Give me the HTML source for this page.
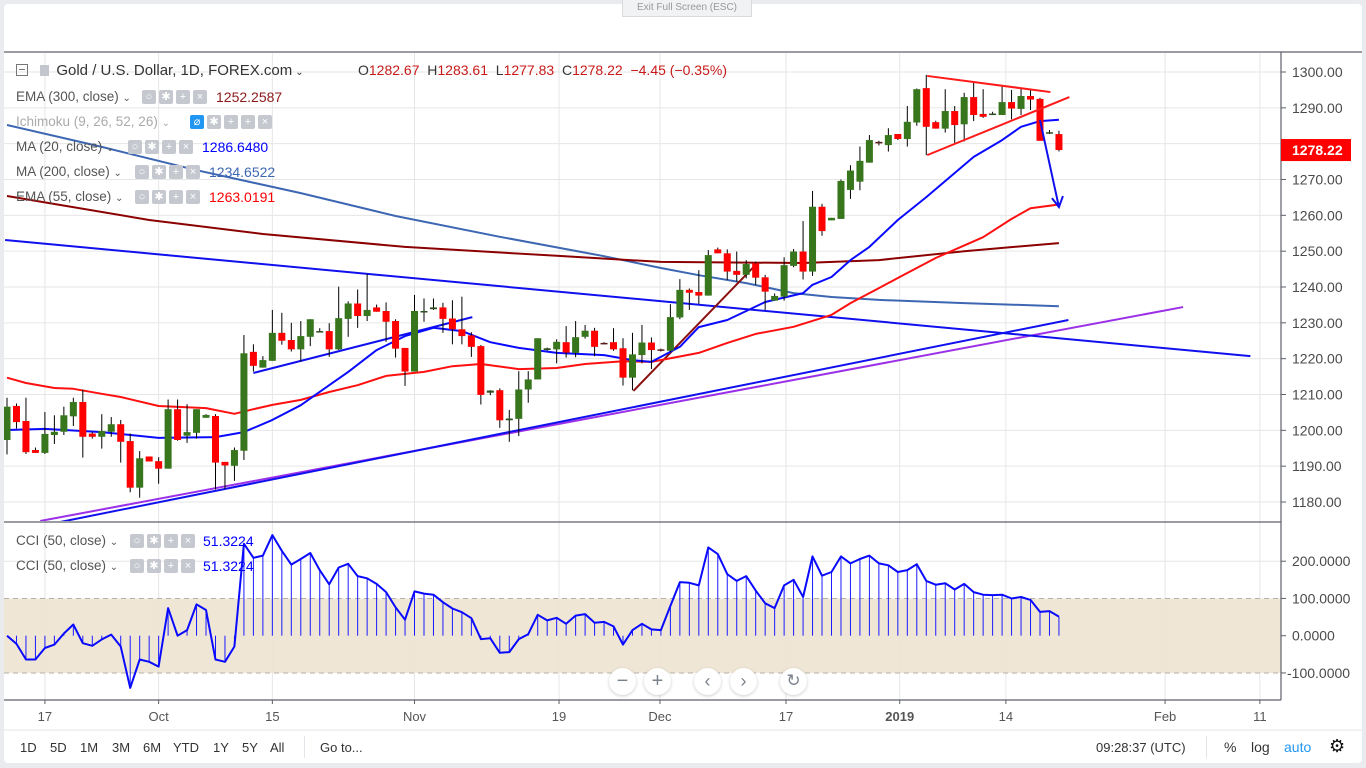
<!DOCTYPE html>
<html><head><meta charset="utf-8"><style>
html,body{margin:0;padding:0;background:#e9ebee;}
svg{display:block;font-family:"Liberation Sans",sans-serif;}
</style></head><body>
<svg id="chart" width="1366" height="768" viewBox="0 0 1366 768" xmlns="http://www.w3.org/2000/svg">
<defs>
<clipPath id="mainClip"><rect x="4" y="53" width="1277" height="468"/></clipPath>
<clipPath id="cciClip"><rect x="4" y="523" width="1277" height="176"/></clipPath>
<filter id="sh" x="-50%" y="-50%" width="200%" height="200%"><feDropShadow dx="0" dy="1" stdDeviation="1.5" flood-color="#000" flood-opacity="0.18"/></filter>
</defs>
<rect x="4" y="4" width="1358" height="759" rx="4" fill="#fff"/>
<g id="grid"></g>
<g id="cciBand"></g>
<g id="mainG" clip-path="url(#mainClip)"></g>
<g id="cciG" clip-path="url(#cciClip)"></g>
<g id="axes"></g>
<g id="legend"></g>
</svg>
<script>
// ---------- data ----------
const opens=[1197.3,1206.8,1202.6,1194.5,1193.7,1198.7,1199.6,1203.9,1207.9,1199.1,1198.2,1199.6,1201.7,1197,1184,1192.7,1191.4,1189.3,1205.9,1198.5,1199.3,1203.5,1204,1191.2,1190.1,1194.3,1221.9,1217.5,1219.4,1227.2,1225.2,1222.6,1226.1,1227.3,1227.7,1222.6,1231.1,1235.4,1231.9,1234.3,1233.3,1230.5,1223,1216.4,1233.1,1233.8,1234.3,1231.2,1228.2,1226.5,1223.5,1210.5,1211.2,1202.8,1203.2,1211.4,1214.2,1222.4,1222.6,1224.6,1221.6,1226.1,1227.8,1224.4,1224.6,1222.9,1214.7,1221,1224.5,1222.6,1222.2,1231.5,1239.2,1238.6,1237.6,1250.5,1249.4,1244.5,1243.4,1246.6,1242.7,1236.2,1237.3,1245.9,1249.9,1244.3,1262.4,1258.6,1259,1267.1,1269.4,1274.7,1280.5,1279.6,1282.7,1281.3,1285.9,1295.5,1286,1284.2,1289.1,1285.4,1293,1288.3,1288.2,1288,1291.6,1289.7,1293.3,1292.5,1283,1282.67];
const highs=[1209.1,1207.5,1209.1,1195.2,1205.1,1204.2,1206.6,1209.1,1211.4,1199.6,1204.5,1203.7,1202.9,1199.1,1194.2,1192.7,1192.5,1208.6,1208.6,1207.3,1205.9,1204.5,1204.5,1191.2,1195.2,1226.6,1224,1220.7,1233.6,1232.8,1230,1230.5,1231,1228.5,1229.9,1240.1,1236,1239.3,1243.6,1235.1,1235.7,1231,1223,1237.8,1236.8,1236.8,1235.6,1236.3,1237.3,1227.4,1223.8,1211.2,1211.7,1205.7,1216.5,1216.5,1225.7,1223.1,1225.4,1229.1,1230.5,1229.4,1228.6,1224.6,1228.5,1225.7,1227.2,1229.4,1225.9,1222.8,1235.2,1242.2,1239.6,1244.7,1250.3,1251,1250.5,1249.9,1247.5,1247.1,1243.4,1238.2,1248.3,1250.6,1258.4,1266.8,1263.2,1259.3,1270,1274,1279.2,1282.4,1280.8,1284.3,1282.7,1290.5,1295.4,1299.2,1286.4,1295.2,1290.5,1294.2,1297.3,1295.2,1288.9,1296.1,1295,1295.4,1295.4,1292.8,1283.8,1283.61];
const lows=[1193.3,1200.5,1193.4,1193.7,1193.4,1196.2,1198.7,1201.2,1192.4,1197.7,1194.9,1198.2,1191,1182.7,1181.2,1191.3,1185.1,1189.3,1197.1,1196.5,1197.7,1203.5,1183.5,1183.7,1185.9,1191.7,1216.4,1217.5,1219.4,1223.9,1222,1219.2,1223.5,1227.3,1220.5,1222.4,1226.1,1228.6,1230.5,1233.1,1224.7,1220.3,1212.4,1216.4,1230.3,1233.6,1227.2,1224,1224,1220.5,1207.2,1209.8,1200.7,1196.8,1198.4,1207.7,1214.2,1222.2,1218.7,1220.3,1220.4,1225.6,1220.7,1224,1222.2,1212.5,1211.2,1218.7,1217.1,1222,1221.8,1231,1233.6,1235.3,1237.6,1249.4,1242,1241.5,1242.4,1240.6,1233.6,1236.2,1236.2,1245.5,1242.1,1243.1,1254.3,1258.6,1259,1264.6,1267,1274.7,1279.5,1277.8,1281,1279.2,1285,1276.8,1284.2,1283.1,1279.8,1280.6,1286.3,1287.2,1288,1288,1286.8,1288,1289.4,1280.8,1282.7,1277.83];
const closes=[1206.6,1202.3,1193.9,1193.7,1199,1199.6,1204.2,1207.9,1198.2,1198.2,1199.8,1201.7,1196.8,1184,1192.2,1191.3,1189.3,1205.9,1197.3,1199.5,1205.9,1204.3,1191,1190.2,1194.5,1221.5,1218,1219.6,1227.2,1225,1222.6,1226.3,1231,1227.7,1222.6,1231.3,1235.4,1231.9,1233.6,1233.1,1230.3,1222.8,1216.4,1233.3,1233.3,1234.3,1231.1,1228.2,1226.3,1223.3,1209.9,1211.1,1202.8,1203.3,1211.4,1214.2,1225.7,1222.9,1224.7,1221.7,1226,1227.8,1223.3,1224.3,1222.6,1214.7,1221.2,1224.5,1222.4,1222.2,1231.6,1239.2,1238.4,1237.6,1248.9,1249.4,1244.3,1243.4,1246.4,1242.6,1238.7,1237.5,1246.1,1249.9,1244.3,1262.4,1255.6,1259.3,1269.6,1272.5,1275.2,1281,1280.2,1282.4,1281.3,1286.1,1295.2,1284.7,1284.2,1289.1,1285.2,1293,1288,1287.5,1288.4,1291.6,1289.8,1293.3,1292.3,1280.8,1283.2,1278.22];
const cciValues=[0,-22,-64,-64,-33,-24,6,30,-20,-27,-10,3,-29,-140,-64,-70,-83,74,0,15,84,69,-64,-70,-29,247,209,215,270,228,191,206,222,176,138,183,193,160,154,139,117,76,43,119,113,110,90,73,63,47,-9,-7,-46,-44,-9,4,56,41,48,32,54,58,35,37,25,-24,15,32,17,15,80,144,142,135,237,219,165,147,160,121,87,74,135,150,104,213,161,171,213,194,206,215,194,189,171,176,192,147,137,141,124,139,117,110,109,110,100,104,96,64,66,51.32];
const ma20Idx=[0,4,10,16,22,25,28,31,34,36,39,42,45,48,51,54,58,63,66,68,71,73,76,80,84,85,87,89,91,94,97,100,102,105,107,109,111];
const ma20Val=[1200.1,1200.4,1199.5,1197.9,1198.1,1199.5,1202.9,1207,1212.6,1216.3,1222.4,1226.3,1228.6,1227.7,1224.6,1223,1221.6,1221,1219.6,1219.1,1223.3,1228.8,1230.8,1235.8,1238.3,1240.6,1242.8,1247.5,1251.2,1258.7,1265.1,1271.8,1276.3,1281,1284.7,1286.3,1286.65];
const ema55Idx=[0,2,5,7,10,12,16,21,24,26,28,31,34,37,40,44,47,50,54,58,61,65,68,73,76,79,83,87,89,92,94,98,103,106,108,111];
const ema55Val=[1214.7,1213.2,1211.8,1211.6,1210.2,1209.3,1206.8,1206.2,1204.6,1205.9,1207.1,1208.5,1210.7,1212.6,1215.2,1216.3,1217.9,1218.5,1217.1,1217.4,1218.5,1219.3,1219.1,1221.6,1224.4,1226.9,1228.9,1232.2,1235.5,1239.7,1242.5,1248.1,1253.9,1259,1262,1263.02];
const ema300Idx=[0,15,27,42,58,69,84,92,101,111];
const ema300Val=[1265.4,1258.7,1254.8,1251.2,1248.7,1247,1246.7,1247.5,1250,1252.26];
const ma200Idx=[0,10,20,31,41,52,63,69,73,78,83,87,92,101,111];
const ma200Val=[1285.2,1279.1,1272.6,1266.2,1259.8,1254,1248.6,1245.3,1243.3,1241.1,1238.3,1237.2,1236.4,1235.5,1234.65];
const priceTicks=[1300,1290,1280,1270,1260,1250,1240,1230,1220,1210,1200,1190,1180];
const cciTicks=[200,100,0,-100];
const timeLabels=["17","Oct","15","Nov","19","Dec","17","2019","14","Feb","11"];
const timeIdx=[4,16,28,43,58.25,68.9,82.2,94.2,105.4,122.2,132.2];

// ---------- axes ----------
const NS="http://www.w3.org/2000/svg";
const xB=i=>7+i*9.477;
const yP=p=>72+(1300-p)*3.5833;
const yC=v=>635.7-v*0.3725;
function mk(tag,attrs,parent,text){const e=document.createElementNS(NS,tag);for(const k in attrs)e.setAttribute(k,attrs[k]);if(text!==undefined)e.textContent=text;parent.appendChild(e);return e;}
const grid=document.getElementById('grid'),mainG=document.getElementById('mainG'),cciG=document.getElementById('cciG'),axes=document.getElementById('axes'),band=document.getElementById('cciBand'),legend=document.getElementById('legend');

// grid
priceTicks.forEach(p=>{const l=mk('line',{x1:4,x2:1281,y1:yP(p),y2:yP(p),stroke:'#e6e6e6','stroke-width':1},grid);

});
timeIdx.forEach(i=>{const l=mk('line',{x1:xB(i),x2:xB(i),y1:53,y2:700,stroke:'#e6e6e6','stroke-width':1},grid);

});
const g200=mk('line',{x1:4,x2:1281,y1:yC(200),y2:yC(200),stroke:'#e6e6e6'},grid);



// CCI band
const br=mk('rect',{x:4,y:yC(100),width:1277,height:yC(-100)-yC(100),fill:'#ede3d1','fill-opacity':0.9},band);


[100,-100].forEach(v=>{const l=mk('line',{x1:4,x2:1281,y1:yC(v),y2:yC(v),stroke:'#b5b0a8','stroke-dasharray':'5,4'},band);

});

// moving average lines
function poly(idx,val,color,w,name){let d=idx.map((i,k)=>(k?'L':'M')+xB(i).toFixed(1)+','+yP(val[k]).toFixed(1)).join('');
const p=mk('path',{d:d,fill:'none',stroke:color,'stroke-width':w,'stroke-linejoin':'round'},mainG);

}
poly(ma200Idx,ma200Val,'#3d67b2',2,'ma200-line');
poly(ema300Idx,ema300Val,'#8b0000',2,'ema300-line');

// trendlines (index, price)
const tlBlueDown=[[-0.2,1253.1],[131.2,1220.7]];
const tlBlueUp=[[3.5,1173.3],[112,1230.8]];
const tlPurple=[[3.5,1174.7],[124.1,1234.4]];
const tlBlueShort=[[26,1216],[49.1,1231.6]];
const tlDarkRed=[[66.1,1211],[78.9,1245.9]];
const tlTriTop=[[97.1,1298.9],[110.1,1294.4]];
const tlTriBot=[[97.1,1276.8],[112.1,1293]];
function tl(pts,color,name){const l=mk('line',{x1:xB(pts[0][0]),y1:yP(pts[0][1]),x2:xB(pts[1][0]),y2:yP(pts[1][1]),stroke:color,'stroke-width':2},mainG);

}
tl(tlPurple,'#9b30e8','purple-trendline');
tl(tlBlueUp,'#1010ee','blue-support-trendline');
tl(tlBlueDown,'#1010ee','blue-resistance-trendline');
tl(tlBlueShort,'#1010ee','blue-short-trendline');
tl(tlDarkRed,'#8b1010','darkred-trendline');
poly(ema55Idx,ema55Val,'#ff1010',2,'ema55-line');
poly(ma20Idx,ma20Val,'#0a0aff',2,'ma20-line');

// candles
for(let i=0;i<opens.length;i++){
 const o=opens[i],c=closes[i],h=highs[i],l=lows[i],x=xB(i);
 const up=c>=o, small=Math.abs(c-o)<0.6;
 const col=small?(up?'#2e4f22':'#5a1a1a'):(up?'#37761d':'#ff0000');
 const w=mk('line',{x1:x,x2:x,y1:yP(h),y2:yP(l),stroke:'#000','stroke-width':1},mainG);
 
 
 const top=yP(Math.max(o,c)),bh=Math.max(1.5,yP(Math.min(o,c))-top);
 const b=mk('rect',{x:x-3.5,y:top,width:7,height:bh,fill:col},mainG);
 
 
}
tl(tlTriTop,'#ff1a1a','triangle-upper-line');
tl(tlTriBot,'#ff1a1a','triangle-lower-line');
// arrow
const arrowFrom=[109,1286.6], arrowTo=[111,1262.3];
const ar=mk('path',{d:`M${xB(arrowFrom[0])},${yP(arrowFrom[1])} L${xB(arrowTo[0])},${yP(arrowTo[1])} M${xB(arrowTo[0])-7},${yP(arrowTo[1])-9} L${xB(arrowTo[0])},${yP(arrowTo[1])} L${xB(arrowTo[0])+4},${yP(arrowTo[1])-11}`,fill:'none',stroke:'#1010ee','stroke-width':2},mainG);



// CCI
cciValues.forEach((v,i)=>{const l=mk('line',{x1:xB(i),x2:xB(i),y1:yC(0),y2:yC(v),stroke:'#1a1aff','stroke-width':1},cciG);

});
const cp=mk('path',{d:cciValues.map((v,i)=>(i?'L':'M')+xB(i).toFixed(1)+','+yC(v).toFixed(1)).join(''),fill:'none',stroke:'#0a0aff','stroke-width':2,'stroke-linejoin':'round'},cciG);



// borders
[[4,52,1362,52],[4,522,1281,522],[1281,52,1281,700],[4,700,1281,700]].forEach(a=>{const l=mk('line',{x1:a[0],y1:a[1],x2:a[2],y2:a[3],stroke:'#5d606b','stroke-width':1.2},axes);

});
mk('line',{x1:4,x2:1362,y1:730,y2:730,stroke:'#e3e5ea'},axes);

// price axis
priceTicks.forEach(p=>{mk('line',{x1:1281,x2:1286,y1:yP(p),y2:yP(p),stroke:'#5d606b'},axes);
const t=mk('text',{x:1292,y:yP(p)+5,'font-size':14,fill:'#4a4a4a'},axes,p.toFixed(2));

});
const lastC=closes[closes.length-1];
const pb=mk('rect',{x:1281,y:yP(lastC)-11,width:70,height:22,fill:'#ff0000'},axes);


const pt=mk('text',{x:1292,y:yP(lastC)+5,'font-size':14,'font-weight':'bold',fill:'#fff'},axes,lastC.toFixed(2));


cciTicks.forEach(v=>{mk('line',{x1:1281,x2:1286,y1:yC(v),y2:yC(v),stroke:'#5d606b'},axes);
const t=mk('text',{x:v<0?1287:1292,y:yC(v)+5,'font-size':14,fill:'#4a4a4a'},axes,v.toFixed(4));

});

// time axis
timeLabels.forEach((s,k)=>{const x=xB(timeIdx[k]);mk('line',{x1:x,x2:x,y1:700,y2:704,stroke:'#5d606b'},axes);
const t=mk('text',{x:x,y:721,'font-size':13,fill:'#555','text-anchor':'middle','font-weight':s==='2019'?'bold':'normal'},axes,s);

});
</script>

<svg width="0" height="0" style="position:absolute"></svg>
<div style="position:absolute;left:0;top:0;width:1366px;height:768px;pointer-events:none;font-family:'Liberation Sans',sans-serif;">
 <div style="position:absolute;left:622px;top:0;width:128px;height:16px;background:#f1f2f4;border:1px solid #d8dade;border-top:none;font-size:10px;color:#999;text-align:center;line-height:15px;pointer-events:auto;">Exit Full Screen (ESC)</div>

 <div style="position:absolute;left:16px;top:62px;height:20px;white-space:nowrap;font-size:15px;color:#333;">
  <span style="display:inline-block;width:10px;height:10px;border:1px solid #777;vertical-align:-1px;position:relative;"><span style="position:absolute;left:2px;top:4px;width:6px;height:1px;background:#777"></span></span>
  <span style="display:inline-block;width:9px;height:11px;background:#c3c6cc;margin-left:8px;vertical-align:-1px;"></span>
  <span style="margin-left:3px;">Gold / U.S. Dollar, 1D, FOREX.com</span><span style="font-size:10px;margin-left:3px;">⌄</span>
  <span style="position:absolute;left:342px;top:0;font-size:14px;">O<span style="color:#c81a1a">1282.67</span>&nbsp; H<span style="color:#c81a1a">1283.61</span>&nbsp; L<span style="color:#c81a1a">1277.83</span>&nbsp; C<span style="color:#c81a1a">1278.22</span>&nbsp; <span style="color:#c81a1a">−4.45 (−0.35%)</span></span>
 </div>
 <div id="studyLegend"></div>

 <div>
  <div style="position:absolute;left:609px;top:668px;width:27px;height:27px;border-radius:50%;background:#fff;box-shadow:0 1px 3px rgba(0,0,0,.2);color:#7a828c;font-size:20px;text-align:center;line-height:26px;">−</div>
  <div style="position:absolute;left:644px;top:668px;width:27px;height:27px;border-radius:50%;background:#fff;box-shadow:0 1px 3px rgba(0,0,0,.2);color:#7a828c;font-size:20px;text-align:center;line-height:26px;">+</div>
  <div style="position:absolute;left:694px;top:668px;width:27px;height:27px;border-radius:50%;background:#fff;box-shadow:0 1px 3px rgba(0,0,0,.2);color:#7a828c;font-size:18px;text-align:center;line-height:26px;">‹</div>
  <div style="position:absolute;left:730px;top:668px;width:27px;height:27px;border-radius:50%;background:#fff;box-shadow:0 1px 3px rgba(0,0,0,.2);color:#7a828c;font-size:18px;text-align:center;line-height:26px;">›</div>
  <div style="position:absolute;left:780px;top:668px;width:27px;height:27px;border-radius:50%;background:#fff;box-shadow:0 1px 3px rgba(0,0,0,.2);color:#7a828c;font-size:17px;text-align:center;line-height:26px;">↻</div>
 </div>

 <div style="position:absolute;left:4px;top:731px;width:1358px;height:32px;font-size:13px;color:#333;">
  <span style="position:absolute;left:16px;top:9px;">1D</span>
  <span style="position:absolute;left:46px;top:9px;">5D</span>
  <span style="position:absolute;left:76px;top:9px;">1M</span>
  <span style="position:absolute;left:108px;top:9px;">3M</span>
  <span style="position:absolute;left:139px;top:9px;">6M</span>
  <span style="position:absolute;left:169px;top:9px;">YTD</span>
  <span style="position:absolute;left:209px;top:9px;">1Y</span>
  <span style="position:absolute;left:238px;top:9px;">5Y</span>
  <span style="position:absolute;left:266px;top:9px;">All</span>
  <span style="position:absolute;left:300px;top:5px;width:1px;height:22px;background:#e3e5ea;"></span>
  <span style="position:absolute;left:316px;top:9px;">Go to...</span>
  <span style="position:absolute;left:1092px;top:9px;">09:28:37 (UTC)</span>
  <span style="position:absolute;left:1202px;top:5px;width:1px;height:22px;background:#e3e5ea;"></span>
  <span style="position:absolute;left:1220px;top:8px;font-size:14px;">%</span>
  <span style="position:absolute;left:1247px;top:8px;font-size:14px;">log</span>
  <span style="position:absolute;left:1280px;top:8px;font-size:14px;color:#2196f3;">auto</span>
  <span style="position:absolute;left:1325px;top:5px;font-size:18px;color:#111;">⚙</span>
 </div>
</div>
<script>
const sl=document.getElementById('studyLegend');
const studies=[
 {t:'EMA (300, close)',y:97,ix:142,vx:216,v:'1252.2587',c:'#8b1a1a',name:'ema300-legend'},
 {t:'Ichimoku (9, 26, 52, 26)',y:122,ix:190,vx:0,v:'',c:'',name:'ichimoku-legend',faded:true},
 {t:'MA (20, close)',y:147,ix:128,vx:202,v:'1286.6480',c:'#0000ff',name:'ma20-legend'},
 {t:'MA (200, close)',y:172,ix:135,vx:209,v:'1234.6522',c:'#3d67b2',name:'ma200-legend'},
 {t:'EMA (55, close)',y:197,ix:135,vx:209,v:'1263.0191',c:'#ff0000',name:'ema55-legend'},
 {t:'CCI (50, close)',y:541,ix:130,vx:203,v:'51.3224',c:'#0000ff',name:'cci-legend-1'},
 {t:'CCI (50, close)',y:566,ix:130,vx:203,v:'51.3224',c:'#0000ff',name:'cci-legend-2'}
];
studies.forEach(s=>{
 const row=document.createElement('div');
 
 
 row.style.cssText=`position:absolute;left:16px;top:${s.y-9}px;height:18px;white-space:nowrap;font-size:13.5px;color:${s.faded?'#aaa':'#555'};line-height:18px;`;
 row.innerHTML=`${s.t} <span style="font-size:10px">⌄</span>`;
 const n=s.faded?5:4;
 for(let k=0;k<n;k++){const b=document.createElement('span');
  
  
  const bg=(s.faded&&k===0)?'#2196f3':'#c5c8cf';
  b.style.cssText=`position:absolute;top:2px;left:${s.ix-16+k*17}px;width:14px;height:14px;background:${bg};border-radius:2px;color:#fff;font-size:11px;line-height:14px;text-align:center;`;
  b.textContent=['○','✱','+','×','×'][s.faded?[0,1,2,2,3][k]:k]||'';
  if(s.faded&&k===0)b.textContent='⌀';
  row.appendChild(b);}
 if(s.v){const v=document.createElement('span');
  
  
  v.style.cssText=`position:absolute;left:${s.vx-16}px;top:0;color:${s.c};font-size:14px;`;
  v.textContent=s.v;row.appendChild(v);}
 sl.appendChild(row);
});
</script>
</body></html>
